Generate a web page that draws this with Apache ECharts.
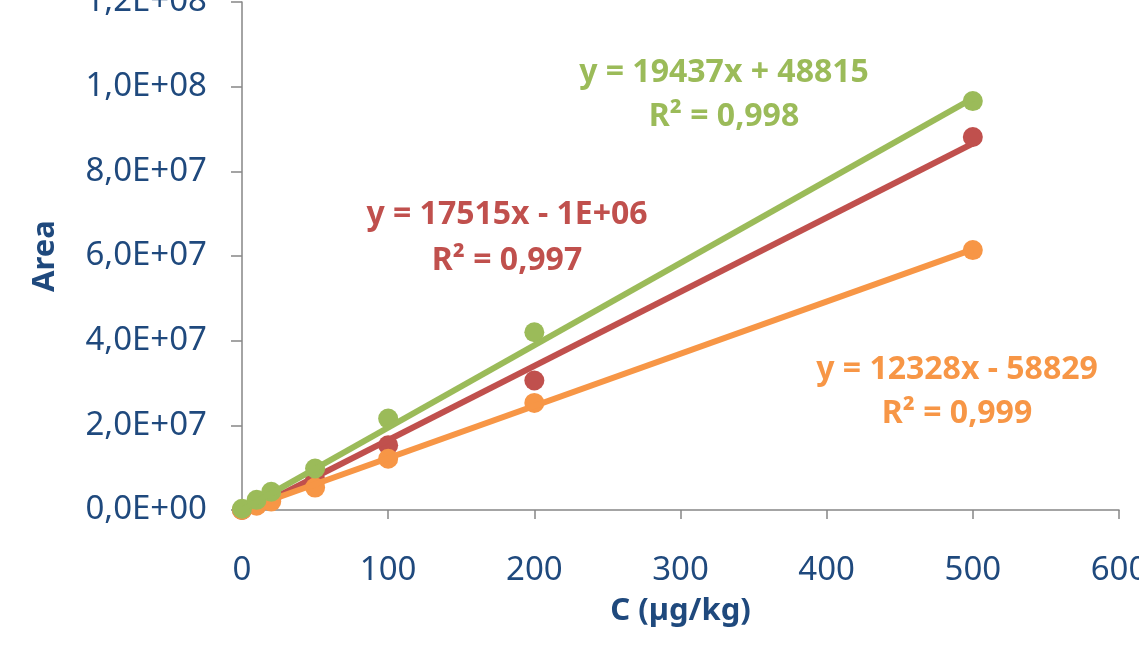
<!DOCTYPE html>
<html>
<head>
<meta charset="utf-8">
<script src="https://cdn.jsdelivr.net/npm/echarts@6/dist/echarts.min.js"></script>
<style>html,body{margin:0;padding:0;background:#fff;}#c{width:1139px;height:667px;}</style>
</head>
<body>
<div id="c"></div>
<script>
// Data
const xValues = [0, 10, 20, 50, 100, 200, 500];
const greenValues = [0.3e6, 2.4e6, 4.3e6, 9.8e6, 2.16e7, 4.2e7, 9.66e7];
const redValues = [0, 1.2e6, 2.6e6, 7.2e6, 1.53e7, 3.06e7, 8.81e7];
const orangeValues = [0, 1.0e6, 2.0e6, 5.3e6, 1.21e7, 2.53e7, 6.14e7];
// Trendline end points (x = 0 and x = 500)
const trendX = [0, 500];
const greenTrend = [48815, 97233815];
const redTrend = [-1000000, 86575000];
const orangeTrend = [-58829, 61581171];
// Trendline labels
const greenLabel = ['y = 19437x + 48815', 'R² = 0,998'];
const redLabel = ['y = 17515x - 1E+06', 'R² = 0,997'];
const orangeLabel = ['y = 12328x - 58829', 'R² = 0,999'];

const GREEN = '#9BBB59', RED = '#C0504D', ORANGE = '#F79646', BLUE = '#1F497D', AXIS = '#868686';

function pairs(xs, ys) { return xs.map((x, i) => [x, ys[i]]); }
function fmtY(v) {
  if (v === 0) return '0,0E+00';
  const e = Math.floor(Math.log10(Math.abs(v)) + 1e-9);
  const m = v / Math.pow(10, e);
  return m.toFixed(1).replace('.', ',') + 'E+' + String(e).padStart(2, '0');
}

const chart = echarts.init(document.getElementById('c'), null, { renderer: 'canvas' });
function trend(name, ys, color, z) {
  return { name: name + ' trend', type: 'line', data: pairs(trendX, ys), symbol: 'none', z: z,
    lineStyle: { color: color, width: 6 }, silent: true, animation: false };
}
function pts(name, ys, color, z) {
  return { name: name, type: 'scatter', data: pairs(xValues, ys), symbol: 'circle', symbolSize: 20, z: z,
    itemStyle: { color: color, opacity: 1 }, animation: false };
}
const eqFont = { fontFamily: 'Noto Sans', fontWeight: 'bold', fontSize: 32 };
function eq(text, color, cx, cy) {
  return { type: 'text', x: cx, y: cy, style: Object.assign({ text: text, fill: color, align: 'center', verticalAlign: 'middle' }, eqFont) };
}
chart.setOption({
  animation: false,
  grid: { left: 242, right: 20, top: 2, bottom: 157, containLabel: false, outerBoundsMode: 'none' },
  xAxis: {
    type: 'value', min: 0, max: 600, interval: 100,
    name: 'C (µg/kg)', nameLocation: 'middle', nameGap: 86,
    nameTextStyle: { color: BLUE, fontFamily: 'Noto Sans', fontWeight: 'bold', fontSize: 31 },
    axisLine: { show: true, lineStyle: { color: AXIS, width: 1.5 } },
    axisTick: { show: true, inside: false, length: 9, lineStyle: { color: AXIS, width: 1.5 } },
    axisLabel: { color: BLUE, fontFamily: 'Noto Sans', fontSize: 33, margin: 44, showMaxLabel: true, hideOverlap: false },
    splitLine: { show: false }
  },
  yAxis: {
    type: 'value', min: 0, max: 1.2e8, interval: 2e7,
    name: 'Area', nameLocation: 'middle', nameGap: 181, nameRotate: 90,
    nameTextStyle: { color: BLUE, fontFamily: 'Noto Sans', fontWeight: 'bold', fontSize: 31 },
    axisLine: { show: true, lineStyle: { color: AXIS, width: 1.5 } },
    axisTick: { show: true, inside: false, length: 11, lineStyle: { color: AXIS, width: 1.5 } },
    axisLabel: { color: BLUE, fontFamily: 'Noto Sans', fontSize: 33, margin: 35, formatter: fmtY, showMaxLabel: true, hideOverlap: false },
    splitLine: { show: false }
  },
  series: [
    pts('Red', redValues, RED, 2),
    trend('Red', redTrend, RED, 3),
    pts('Orange', orangeValues, ORANGE, 4),
    trend('Orange', orangeTrend, ORANGE, 5),
    pts('Green', greenValues, GREEN, 6),
    trend('Green', greenTrend, GREEN, 7)
  ],
  graphic: [
    eq(greenLabel[0], GREEN, 724, 73), eq(greenLabel[1], GREEN, 724, 117),
    eq(redLabel[0], RED, 507, 215), eq(redLabel[1], RED, 507, 261),
    eq(orangeLabel[0], ORANGE, 957, 370), eq(orangeLabel[1], ORANGE, 957, 414)
  ]
});
</script>
</body>
</html>
